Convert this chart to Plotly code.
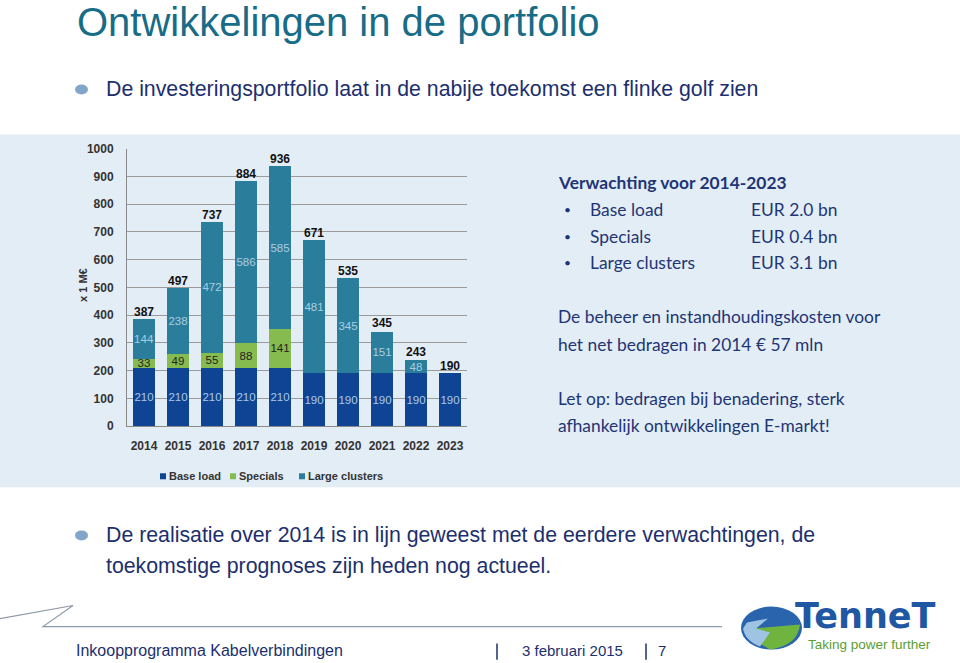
import plotly.graph_objects as go

W, H = 960, 663

years = ["2014", "2015", "2016", "2017", "2018", "2019", "2020", "2021", "2022", "2023"]
base_load = [210, 210, 210, 210, 210, 190, 190, 190, 190, 190]
specials = [33, 49, 55, 88, 141, 0, 0, 0, 0, 0]
large_clusters = [144, 238, 472, 586, 585, 481, 345, 151, 48, 0]
totals = [387, 497, 737, 884, 936, 671, 535, 345, 243, 190]
y_ticks = [0, 100, 200, 300, 400, 500, 600, 700, 800, 900, 1000]
series_names = ["Base load", "Specials", "Large clusters"]

# the capture squeezes the page vertically around its centre; compensate
SQ = 0.977
CY = H / 2


def px(x):
    return x / W


def py(y):
    yd = CY + (y - CY) / SQ
    return 1 - yd / H


def lbl(vals):
    return [str(v) if v > 0 else "" for v in vals]


C_BASE = "#0f4494"
C_SPEC = "#86bb4f"
C_LARGE = "#2a7e9c"
NAVY = "#1c2f6e"
AX_FONT = "Liberation Sans, Arial, sans-serif"

fig = go.Figure()
fig.add_bar(x=years, y=base_load, name=series_names[0], marker_color=C_BASE,
            text=lbl(base_load), textposition="inside", insidetextanchor="middle", textangle=0,
            textfont=dict(color="#a9c9ea", size=11.5, family=AX_FONT))
fig.add_bar(x=years, y=specials, name=series_names[1], marker_color=C_SPEC,
            text=lbl(specials), textposition="inside", insidetextanchor="middle", textangle=0,
            textfont=dict(color="#222222", size=11.5, family=AX_FONT))
fig.add_bar(x=years, y=large_clusters, name=series_names[2], marker_color=C_LARGE,
            text=lbl(large_clusters), textposition="inside", insidetextanchor="middle", textangle=0,
            textfont=dict(color="#a9cde0", size=11.5, family=AX_FONT))
fig.add_scatter(x=years, y=totals, mode="text", text=[str(t) for t in totals],
                textposition="top center", showlegend=False, hoverinfo="skip",
                textfont=dict(color="#111111", size=12, family=AX_FONT, weight="bold"))

fig.update_traces(marker_line_width=0, showlegend=False, selector=dict(type="bar"))

fig.update_layout(
    width=W, height=H,
    margin=dict(l=0, r=0, t=0, b=0),
    paper_bgcolor="white",
    plot_bgcolor="rgba(0,0,0,0)",
    barmode="stack",
    bargap=0.38,
    uniformtext=dict(minsize=11.5, mode="show"),
    xaxis=dict(domain=[px(127), px(467)], showgrid=False, showline=True,
               linecolor="#8a8a8a", linewidth=1, ticks="", fixedrange=True,
               ticklabelstandoff=8,
               tickfont=dict(size=12, color="#333333", family=AX_FONT, weight="bold")),
    yaxis=dict(domain=[py(426), py(149)], range=[0, 1000], tickvals=y_ticks,
               showgrid=True, gridcolor="#9a9a9a", gridwidth=1, showline=True,
               linecolor="#8a8a8a", linewidth=1, ticks="", zeroline=False,
               ticklabelstandoff=10,
               tickfont=dict(size=12, color="#333333", family=AX_FONT, weight="bold")),
    showlegend=False,
)

shapes = [
    dict(type="rect", xref="paper", yref="paper", x0=0, x1=1, y0=py(487), y1=py(135),
         fillcolor="#e3edf5", line_width=0, layer="below"),
    dict(type="circle", xref="paper", yref="paper", x0=px(75), x1=px(88), y0=py(95), y1=py(85),
         fillcolor="#82a6ca", line_width=0),
    dict(type="circle", xref="paper", yref="paper", x0=px(75), x1=px(88), y0=py(540), y1=py(530),
         fillcolor="#82a6ca", line_width=0),
    dict(type="path", xref="paper", yref="paper",
         path=f"M {px(0)} {py(618)} L {px(73)} {py(605)} L {px(43)} {py(626)} L {px(722)} {py(626)}",
         line=dict(color="#8e9aa8", width=1.2)),
    dict(type="line", xref="paper", yref="paper", x0=px(497), x1=px(497), y0=py(659), y1=py(643),
         line=dict(color=NAVY, width=1.5)),
    dict(type="line", xref="paper", yref="paper", x0=px(646), x1=px(646), y0=py(659), y1=py(643),
         line=dict(color=NAVY, width=1.5)),
    dict(type="circle", xref="paper", yref="paper", x0=px(741), x1=px(802), y0=py(649), y1=py(606),
         fillcolor="#2a64ad", line_width=0),
    dict(type="path", xref="paper", yref="paper",
         path=f"M {px(752)} {py(628)} L {px(800)} {py(624)} Q {px(798)} {py(645)} {px(770)} {py(649)} L {px(760)} {py(643)} Z",
         fillcolor="#6fb43f", line_width=0),
    dict(type="path", xref="paper", yref="paper",
         path=f"M {px(747)} {py(622)} L {px(768)} {py(618)} L {px(756)} {py(628)} L {px(770)} {py(632)} L {px(760)} {py(646)} Q {px(745)} {py(640)} {px(743)} {py(628)} Z",
         fillcolor="#9fc3e2", line_width=0),
]

legend_x = [160, 230, 299]
for name, col, lx in zip(series_names, [C_BASE, C_SPEC, C_LARGE], legend_x):
    shapes.append(dict(type="rect", xref="paper", yref="paper", x0=px(lx), x1=px(lx + 6),
                       y0=py(479), y1=py(473), fillcolor=col, line_width=0))

ann = []


def add(text, x, y, size, color, family=AX_FONT, bold=False, xanchor="left", angle=0, yanchor="middle"):
    ann.append(dict(text=text, x=px(x), y=py(y), xref="paper", yref="paper",
                    xanchor=xanchor, yanchor=yanchor, showarrow=False, textangle=angle,
                    font=dict(size=size, color=color, family=family,
                              weight="bold" if bold else "normal")))


for name, lx in zip(series_names, legend_x):
    add(name, lx + 7, 476, 11, "#333333", bold=True)

add("Ontwikkelingen in de portfolio", 75, 23, 40, "#176c88")
add("De investeringsportfolio laat in de nabije toekomst een flinke golf zien", 104, 89, 21.3, NAVY)
add("x 1 M€", 75, 285, 11, "#333333", bold=True, angle=-90)

RF = "Lato, Open Sans, sans-serif"
RC = "#1f3576"
RS = 17.4
add("Verwachting voor 2014-2023", 556, 183, RS, RC, family=RF, bold=True)
rows = [("Base load", "EUR 2.0 bn", 210), ("Specials", "EUR 0.4 bn", 237),
        ("Large clusters", "EUR 3.1 bn", 263)]
for name, val, yy in rows:
    add("•", 562, yy, 12, RC, family=RF)
    add(name, 588, yy, RS, RC, family=RF)
    add(val, 749, yy, RS, RC, family=RF)
add("De beheer en instandhoudingskosten voor", 556, 317, RS, RC, family=RF)
add("het net bedragen in 2014 € 57 mln", 556, 344, RS, RC, family=RF)
add("Let op: bedragen bij benadering, sterk", 556, 398, RS, RC, family=RF)
add("afhankelijk ontwikkelingen E-markt!", 556, 425, RS, RC, family=RF)

add("De realisatie over 2014 is in lijn geweest met de eerdere verwachtingen, de", 104, 535, 21.3, NAVY)
add("toekomstige prognoses zijn heden nog actueel.", 104, 566, 21.3, NAVY)

add("Inkoopprogramma Kabelverbindingen", 74, 650, 16, NAVY)
add("3 februari 2015", 520, 650, 15, NAVY)
add("7", 656, 650, 15, NAVY)

add("TenneT", 793, 637, 35, "#1f57a3", family="DejaVu Sans, sans-serif", bold=True, yanchor="bottom")
add("Taking power further", 806, 634, 13.5, "#5a9e2f", yanchor="top")

fig.update_layout(shapes=shapes, annotations=ann)

fig.write_html("out.html", post_script="document.body.style.margin='0px';",
               config={"displayModeBar": False})
